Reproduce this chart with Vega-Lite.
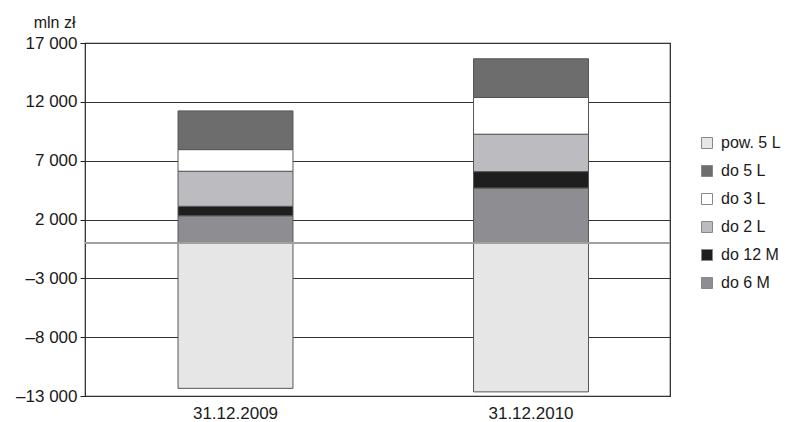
{
  "$schema": "https://vega.github.io/schema/vega-lite/v6.json",
  "width": 585,
  "height": 353,
  "autosize": {"type": "none"},
  "padding": {"left": 85, "top": 43, "right": 121, "bottom": 26},
  "background": "white",
  "config": {
    "view": {"stroke": "#222", "strokeWidth": 1.2},
    "font": "Liberation Sans"
  },
  "data": {
    "values": [
      {"date": "31.12.2009", "bucket": "pow. 5 L", "value": -12350},
      {"date": "31.12.2009", "bucket": "do 6 M", "value": 2320},
      {"date": "31.12.2009", "bucket": "do 12 M", "value": 800},
      {"date": "31.12.2009", "bucket": "do 2 L", "value": 2980},
      {"date": "31.12.2009", "bucket": "do 3 L", "value": 1840},
      {"date": "31.12.2009", "bucket": "do 5 L", "value": 3290},
      {"date": "31.12.2010", "bucket": "pow. 5 L", "value": -12650},
      {"date": "31.12.2010", "bucket": "do 6 M", "value": 4680},
      {"date": "31.12.2010", "bucket": "do 12 M", "value": 1390},
      {"date": "31.12.2010", "bucket": "do 2 L", "value": 3180},
      {"date": "31.12.2010", "bucket": "do 3 L", "value": 3120},
      {"date": "31.12.2010", "bucket": "do 5 L", "value": 3290}
    ]
  },
  "layer": [
    {
      "transform": [
        {"calculate": "indexof(['do 6 M', 'do 12 M', 'do 2 L', 'do 3 L', 'do 5 L', 'pow. 5 L'], datum.bucket)", "as": "stackOrder"}
      ],
      "mark": {"type": "bar", "stroke": "#555", "strokeWidth": 1},
      "encoding": {
        "x": {
          "field": "date",
          "type": "nominal",
          "scale": {"paddingInner": 0.611, "paddingOuter": 0.2953, "align": 0.533},
          "axis": {
            "title": null,
            "labelAngle": 0,
            "ticks": false,
            "domain": false,
            "labelFontSize": 17,
            "labelColor": "#1a1a1a",
            "labelPadding": 9
          }
        },
        "y": {
          "field": "value",
          "type": "quantitative",
          "stack": "zero",
          "scale": {"domain": [-13000, 17000], "nice": false, "zero": false},
          "axis": {
            "values": [-13000, -8000, -3000, 2000, 7000, 12000, 17000],
            "labelExpr": "(datum.value < 0 ? '–' : '') + replace(format(abs(datum.value), ','), ',', ' ')",
            "labelFontSize": 17,
            "labelColor": "#1a1a1a",
            "tickSize": 5,
            "tickColor": "#222",
            "labelPadding": 3,
            "domain": false,
            "grid": true,
            "gridColor": "#333",
            "gridWidth": 1,
            "gridOpacity": 1,
            "title": "mln zł",
            "titleAngle": 0,
            "titleFontWeight": "normal",
            "titleFontSize": 16,
            "titleColor": "#1a1a1a",
            "titleAlign": "right",
            "titleBaseline": "alphabetic",
            "titleX": -10,
            "titleY": -16
          }
        },
        "order": {"field": "stackOrder", "type": "quantitative"},
        "color": {
          "field": "bucket",
          "type": "nominal",
          "scale": {
            "domain": ["do 6 M", "do 12 M", "do 2 L", "do 3 L", "do 5 L", "pow. 5 L"],
            "range": ["#8e8e92", "#1e1e1e", "#bcbcc0", "#ffffff", "#6d6d6d", "#e6e6e6"]
          },
          "legend": {
            "title": null,
            "orient": "none",
            "legendX": 614,
            "legendY": 92,
            "values": ["pow. 5 L", "do 5 L", "do 3 L", "do 2 L", "do 12 M", "do 6 M"],
            "symbolType": "square",
            "symbolSize": 121,
            "symbolStrokeColor": "#888",
            "symbolStrokeWidth": 1,
            "labelFontSize": 16,
            "labelColor": "#1a1a1a",
            "labelOffset": 6,
            "rowPadding": 12
          }
        }
      }
    },
    {
      "mark": {"type": "rule", "color": "#a0a0a0", "strokeWidth": 1.5},
      "encoding": {"y": {"datum": 0}}
    }
  ]
}
